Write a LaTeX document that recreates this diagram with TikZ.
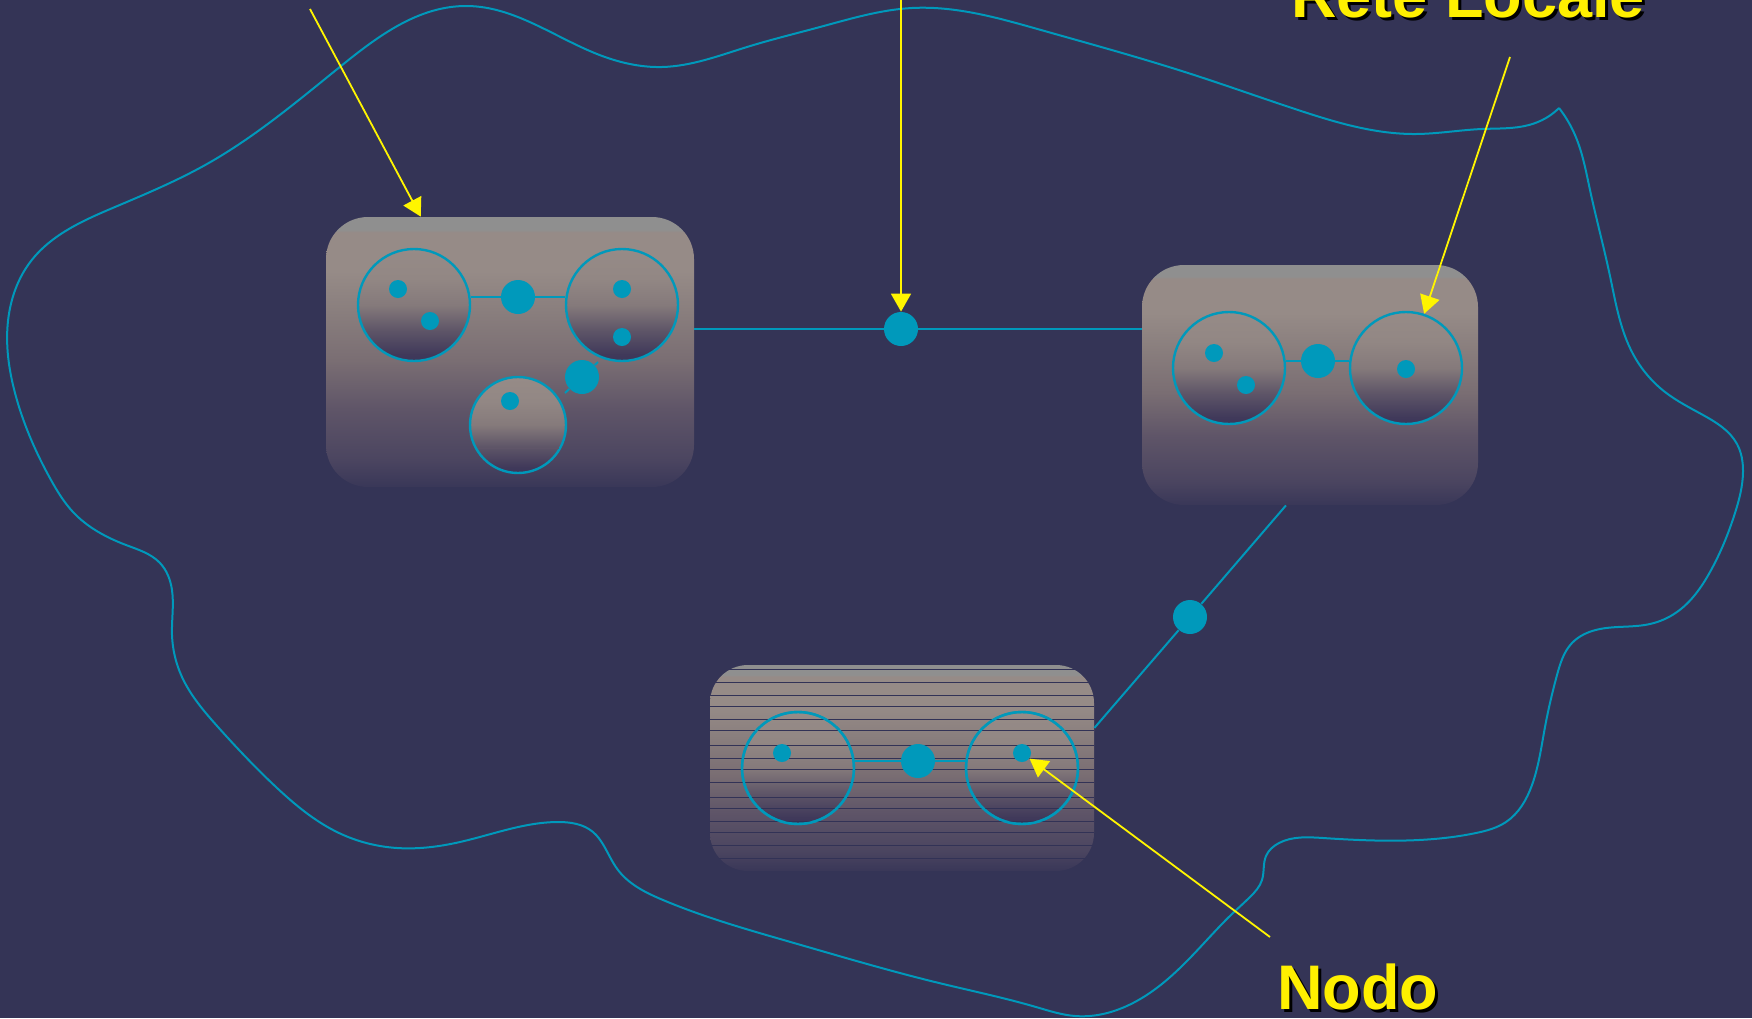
\documentclass[tikz,border=0pt]{standalone}
\usepackage{fontspec}
\setmainfont{Liberation Sans}
\usetikzlibrary{arrows.meta,calc,hobby}
\definecolor{bg}{RGB}{52,52,86}
\definecolor{netcol}{RGB}{0,153,187}
\definecolor{yline}{RGB}{255,245,0}
\definecolor{ytext}{RGB}{255,240,0}
\definecolor{stripe}{RGB}{50,50,86}
\definecolor{bx0}{RGB}{57,55,88}
\definecolor{bx1}{RGB}{75,69,96}
\definecolor{bx2}{RGB}{95,85,104}
\definecolor{bx3}{RGB}{122,110,115}
\definecolor{bx4}{RGB}{138,127,126}
\definecolor{bx5}{RGB}{150,139,135}
\definecolor{bx6}{RGB}{143,143,143}
\definecolor{rg0}{RGB}{60,55,90}
\definecolor{rg1}{RGB}{64,57,90}
\definecolor{rg2}{RGB}{95,86,104}
\definecolor{rg3}{RGB}{133,122,123}
\definecolor{rg4}{RGB}{146,135,132}
\definecolor{rg5}{RGB}{150,139,135}
\pgfdeclareverticalshading{boxshade}{100bp}{color(0bp)=(bx0); color(25bp)=(bx0); color(30bp)=(bx1); color(39.5bp)=(bx2); color(48.5bp)=(bx3); color(58bp)=(bx4); color(65bp)=(bx5); color(72.2bp)=(bx5); color(72.6bp)=(bx6); color(75bp)=(bx6); color(100bp)=(bx6)}
\pgfdeclareverticalshading{ringshade}{100bp}{color(0bp)=(rg0); color(25bp)=(rg0); color(28bp)=(rg1); color(39bp)=(rg2); color(50bp)=(rg3); color(62bp)=(rg4); color(75bp)=(rg5); color(100bp)=(rg5)}
\begin{document}
\begin{tikzpicture}[x=0.5pt,y=-0.5pt,
  netline/.style={draw=netcol, line width=1pt},
  boxnode/.style={shape=rectangle, shade, shading=boxshade, rounded corners=21pt, inner sep=0pt},
  ring/.style={shape=circle, shade, shading=ringshade, draw=netcol, line width=1.2pt, minimum size=56pt, inner sep=0pt},
  smallring/.style={ring, minimum size=48pt},
  hub/.style={shape=circle, fill=netcol, minimum size=17pt, inner sep=0pt},
  host/.style={shape=circle, fill=netcol, minimum size=9pt, inner sep=0pt},
  yarrow/.style={draw=yline, line width=0.9pt, -{Triangle[length=9pt,width=10pt]}},
  txtlab/.style={font=\fontsize{31.5pt}{36pt}\selectfont\bfseries, inner sep=0pt, anchor=base west}
]
\useasboundingbox (0,0) rectangle (1752,1018);
\clip (0,0) rectangle (1752,1018);
\fill[bg] (0,0) rectangle (1752,1018);

% boundary of the network (open Hobby path: corner at the spike)
\draw[netline, line join=round] plot[hobby] coordinates {
 (1559,108) (1575,135) (1590,190) (1610,276) (1633,354) (1665,392) (1703,415)
 (1737,444) (1743,472) (1735,513) (1710,572) (1677,612) (1650,624) (1600,629)
 (1572,643) (1557,675) (1545,727) (1532,785) (1506,822) (1476,833) (1419,840)
 (1323,838) (1279,843) (1266,856) (1262,880) (1250,897) (1233,913) (1188,960)
 (1133,1003) (1075,1016) (1036,1007) (939,983) (794,943) (663,900) (618,870)
 (604,846) (593,832) (557,822) (460,842) (397,848) (339,833) (276,787) (218,727)
 (182,677) (172,635) (172,590) (160,563) (126,545) (73,512) (51,480) (15,393)
 (8,321) (31,261) (115,207) (207,164) (341,66) (467,6) (597,54) (662,67)
 (747,47) (820,27) (912,8) (1041,30) (1188,73) (1298,110) (1416,134) (1482,129)
 (1529,125) (1546,118) (1559,108)};

% local networks (boxes)
\node[boxnode, minimum width=184pt, minimum height=135pt] (A) at (510,352) {};
\node[boxnode, minimum width=168pt, minimum height=120pt] (B) at (1310,385) {};
\node[boxnode, rounded corners=19pt, minimum width=192pt, minimum height=103pt] (C) at (902,768) {};

% rings (nodes)
\node[ring] (A1) at (414,305) {};
\node[ring] (A2) at (622,305) {};
\node[smallring] (A3) at (518,425) {};
\node[ring] (B1) at (1229,368) {};
\node[ring] (B2) at (1406,368) {};
\node[ring] (C1) at (798,768) {};
\node[ring] (C2) at (1022,768) {};

% stripes on box C
\begin{scope}
\clip[rounded corners=19pt] (C.south west) rectangle (C.north east);
\foreach \yy in {669,682,695,706,719,730,745,758,769,782,797,808,821,832,845,858}
  \draw[stripe, line width=0.5pt] (C.west |- 0,\yy) -- (C.east |- 0,\yy);
\end{scope}
\draw[netline, line width=1.2pt] (C1) circle[radius=56];
\draw[netline, line width=1.2pt] (C2) circle[radius=56];
\draw[color=bx2, line width=0.5pt] (478,448) -- (559,448);

% hubs
\node[hub] (hA) at (518,297) {};
\node[hub] (hA2) at (582,377) {};
\node[hub] (hB) at (1318,361) {};
\node[hub] (hC) at (918,761) {};
\node[hub] (hM) at (901,329) {};
\node[hub] (hD) at (1190,617) {};

% hosts
\node[host] (a11) at (398,289) {};
\node[host] (a12) at (430,321) {};
\node[host] (a21) at (622,289) {};
\node[host] (a22) at (622,337) {};
\node[host] (a31) at (510,401) {};
\node[host] (b11) at (1214,353) {};
\node[host] (b12) at (1246,385) {};
\node[host] (b21) at (1406,369) {};
\node[host] (c11) at (782,753) {};
\node[host] (c21) at (1022,753) {};

% links inside boxes
\draw[netline] (A1.east |- hA) -- (hA) -- (A2.west |- hA);
\coordinate (a2s) at (565,393);
\coordinate (a2e) at (598,362);
\draw[netline] (a2s) -- (hA2) -- (a2e);
\draw[netline] (B1.east |- hB) -- (hB) -- (B2.west |- hB);
\draw[netline] (C1.east |- hC) -- (hC) -- (C2.west |- hC);

% links between boxes
\draw[netline] (A.east |- hM) -- (hM) -- (B.west |- hM);
\coordinate (pB) at ($(B.south west)!0.4286!(B.south east)$);
\coordinate (pC) at ($(C.north east)!0.306!(C.south east)$);
\draw[netline] (pB) -- (hD) -- (pC);

% pointers
\coordinate (s1) at (310,9);
\coordinate (s2) at (901,-5);
\coordinate (s3) at (1510,57);
\coordinate (s4) at (1270,937);
\draw[yarrow] (s1) -- ($(A.north west)!0.258!(A.north east)$);
\draw[yarrow] (s2) -- (hM);
\draw[yarrow] (s3) -- (B2);
\draw[yarrow] (s4) -- (c21);

% labels
\node[txtlab, text=black] (rlS) at (1294,20) {Rete Locale};
\node[txtlab, text=ytext] (rl) at (1291,17) {Rete Locale};
\node[txtlab, text=black] (ndS) at (1280,1012) {Nodo};
\node[txtlab, text=ytext] (nd) at (1277,1009) {Nodo};
\end{tikzpicture}
\end{document}
